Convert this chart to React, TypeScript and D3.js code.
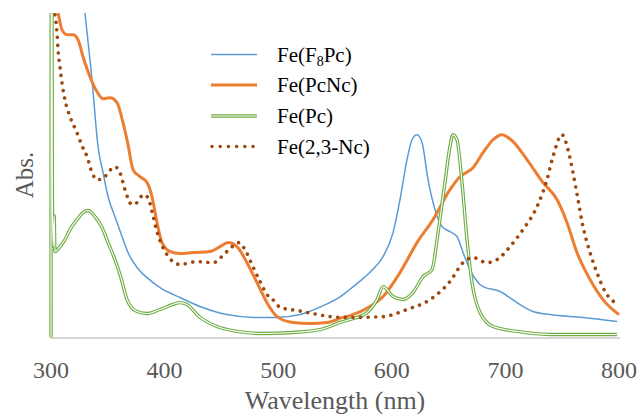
import React from "react";
import * as d3 from "d3";

const W = 639;
const H = 414;

const xTicks = [300, 400, 500, 600, 700, 800];

const seriesNames = ["Fe(F8Pc)", "Fe(PcNc)", "Fe(Pc)", "Fe(2,3-Nc)"];

// Fe(F8Pc) [wavelength nm, abs]
const feF8Pc: [number, number][] = [
  [300, 3.2], [325.5, 1.85], [329.9, 1.601], [336.1, 1.271], [341.4, 0.941], [345.8, 0.813],
  [350.2, 0.695], [356.3, 0.596], [362.5, 0.498], [367.8, 0.419], [375.7, 0.345], [384.5, 0.295],
  [396, 0.246], [413.6, 0.197], [431.2, 0.153], [454.9, 0.113], [478, 0.099], [499, 0.099],
  [519.2, 0.113], [536.8, 0.15], [554.4, 0.2], [563.2, 0.238], [572, 0.278], [580.8, 0.322],
  [592.3, 0.399], [601.1, 0.517], [607.2, 0.68], [613.4, 0.877], [617.8, 0.975], [622.2, 1.0],
  [626.6, 0.961], [631.9, 0.778], [638, 0.631], [644.2, 0.547], [651.2, 0.522], [657.4, 0.498],
  [662.7, 0.419], [668.8, 0.335], [680.3, 0.251], [695.3, 0.227], [710.2, 0.172], [724.3, 0.128],
  [739.3, 0.113], [768.3, 0.099], [798.3, 0.079],
];

// Fe(PcNc)
const fePcNc: [number, number][] = [
  [300, 1.75], [306.2, 1.601], [309.7, 1.517], [314.1, 1.493], [319.4, 1.493], [323.8, 1.468],
  [328.2, 1.384], [334.3, 1.286], [340.5, 1.212], [345.8, 1.177], [351.9, 1.182], [358.1, 1.158],
  [363.4, 1.059], [367.8, 0.951], [372.2, 0.828], [378.3, 0.793], [384.5, 0.764], [388.9, 0.695],
  [393.3, 0.567], [397.7, 0.468], [404.8, 0.424], [413.6, 0.414], [425, 0.419], [440, 0.424],
  [448.8, 0.448], [455.8, 0.468], [463.7, 0.448], [472.5, 0.369], [481.3, 0.271], [490.1, 0.172],
  [499, 0.103], [513, 0.074], [528, 0.069], [543, 0.074], [557, 0.099], [563.2, 0.108],
  [580.8, 0.153], [592.3, 0.202], [607.2, 0.32], [622.2, 0.468], [636.3, 0.581], [651.2, 0.729],
  [660, 0.793], [671.5, 0.837], [680.3, 0.911], [689.1, 0.975], [697, 1.0], [706.7, 0.966],
  [719, 0.877], [733.1, 0.764], [745.4, 0.68], [754.2, 0.567], [763, 0.419], [774.5, 0.286],
  [785.9, 0.187], [800, 0.113],
];

// Fe(Pc)
const fePc: [number, number][] = [
  [300, 0], [300.4, 3.0], [301.2, 0.69], [302, 0.45], [302.8, 0.6], [303.5, 0.424],
  [307.9, 0.448], [312.3, 0.483], [316.7, 0.532], [322.9, 0.581], [328.2, 0.616], [332.6, 0.626],
  [338.7, 0.596], [344.9, 0.542], [350.2, 0.468], [356.3, 0.384], [361.6, 0.295], [366.9, 0.187],
  [375.7, 0.128], [384.5, 0.118], [396, 0.138], [407.4, 0.163], [413.6, 0.172], [419.7, 0.163],
  [430, 0.105], [446.1, 0.054], [463.7, 0.03], [484, 0.02], [513, 0.025], [536.8, 0.039],
  [554.4, 0.074], [563.2, 0.089], [578.2, 0.123], [587, 0.187], [592.3, 0.251], [601.1, 0.202],
  [609.9, 0.187], [618.7, 0.222], [627.5, 0.3], [635.4, 0.335], [640.7, 0.517], [646.8, 0.764],
  [651.2, 0.941], [653.9, 1.0], [657.4, 0.975], [661.8, 0.764], [666.2, 0.483], [670.6, 0.271],
  [677.6, 0.123], [689.1, 0.054], [710.2, 0.03], [739.3, 0.015], [798.3, 0.015],
];

// Fe(2,3-Nc)
const fe23Nc: [number, number][] = [
  [303.5, 1.591], [305.3, 1.502], [306.2, 1.419], [307.9, 1.335], [309.7, 1.256], [312.3, 1.172],
  [316.7, 1.089], [322.9, 1.01], [327.3, 0.945], [331.7, 0.892], [336.1, 0.813], [340.5, 0.778],
  [345.8, 0.783], [350.2, 0.813], [356.3, 0.842], [360.7, 0.813], [365.1, 0.729], [371.3, 0.655],
  [376.6, 0.67], [381, 0.704], [385.4, 0.69], [388.9, 0.621], [393.3, 0.522], [402.1, 0.409],
  [407.4, 0.374], [413.6, 0.36], [428.5, 0.374], [442.6, 0.369], [454.9, 0.424], [465.5, 0.468],
  [470.8, 0.433], [476.9, 0.36], [484, 0.276], [490.1, 0.212], [497.2, 0.177], [501.6, 0.148],
  [516.6, 0.133], [530.6, 0.118], [545.6, 0.103], [560.6, 0.099], [572, 0.099], [592.3, 0.103],
  [613.4, 0.138], [633.6, 0.187], [651.2, 0.276], [662.7, 0.369], [671.5, 0.394], [683.8, 0.369],
  [692.6, 0.384], [704.1, 0.448], [715.5, 0.532], [727.8, 0.645], [736.6, 0.778], [741.9, 0.892],
  [749.8, 1.0], [755.1, 0.926], [759.5, 0.813], [763.9, 0.68], [768.3, 0.547], [774.5, 0.419],
  [780.6, 0.32], [787.7, 0.227], [796.5, 0.172],
];

const SERIF = "Liberation Serif";

export default function App() {
  const left = 51;
  const right = 619;
  const top = 13;
  const bottom = 337.5;
  const x = d3.scaleLinear().domain([300, 800]).range([left, right]);
  const y = d3.scaleLinear().domain([0, 1.6]).range([bottom, top]);
  const line = d3
    .line<[number, number]>()
    .x((d) => x(d[0]))
    .y((d) => y(d[1]))
    .curve(d3.curveMonotoneX);

  const blue = "#5B9BD5";
  const orange = "#ED7D31";
  const green = "#70AD47";
  const brown = "#9E480E";

  const legendY = [54.5, 85, 116, 146.5];
  const lx1 = 211;
  const lx2 = 257;

  return (
    <svg
      width={W}
      height={H}
      fontFamily={SERIF}
      style={{ position: "absolute", left: 0, top: 0, background: "#fff", fontFamily: "'Liberation Serif'" }}
    >
      <defs>
        <clipPath id="plot">
          <rect x={left - 4} y={top} width={right - left + 12} height={bottom - top + 3} />
        </clipPath>
      </defs>
      <line x1={left} x2={right + 1} y1={bottom + 0.5} y2={bottom + 0.5} stroke="#C8C8C8" strokeWidth={1.5} />
      <g clipPath="url(#plot)">
        <path d={line(feF8Pc) || ""} fill="none" stroke={blue} strokeWidth={1.5} />
        <path d={line(fePcNc) || ""} fill="none" stroke={orange} strokeWidth={3} />
        <path d={line(fePc) || ""} fill="none" stroke={green} strokeWidth={3.4} />
        <path d={line(fePc) || ""} fill="none" stroke="#fff" strokeWidth={1.1} />
        <path
          d={line(fe23Nc) || ""}
          fill="none"
          stroke={brown}
          strokeWidth={3.6}
          strokeLinecap="round"
          strokeDasharray="0.01 7.6"
        />
      </g>
      <g fontFamily={SERIF}>
        {xTicks.map((t) => (
          <text key={t} x={x(t)} y={378} textAnchor="middle" fontSize={24} fill="#595959">
            {t}
          </text>
        ))}
        <text x={335} y={409} textAnchor="middle" fontSize={26} fill="#595959">
          Wavelength (nm)
        </text>
        <text transform="translate(33,175) rotate(-90)" textAnchor="middle" fontSize={25} fill="#595959">
          Abs.
        </text>
      </g>
      {/* legend */}
      <line x1={lx1} x2={lx2} y1={legendY[0]} y2={legendY[0]} stroke={blue} strokeWidth={1.5} />
      <line x1={lx1} x2={lx2} y1={legendY[1]} y2={legendY[1]} stroke={orange} strokeWidth={3} />
      <line x1={lx1} x2={lx2} y1={legendY[2]} y2={legendY[2]} stroke={green} strokeWidth={3.4} />
      <line x1={lx1} x2={lx2} y1={legendY[2]} y2={legendY[2]} stroke="#fff" strokeWidth={1.1} />
      <line
        x1={lx1 + 1}
        x2={lx2}
        y1={legendY[3]}
        y2={legendY[3]}
        stroke={brown}
        strokeWidth={3.6}
        strokeLinecap="round"
        strokeDasharray="0.01 8.2"
      />
      <g fontFamily={SERIF} fontSize={21} fill="#000">
        <text x={277} y={legendY[0] + 7}>
          Fe(F<tspan fontSize={14} dy={4}>8</tspan>
          <tspan dy={-4}>Pc)</tspan>
        </text>
        {seriesNames.slice(1).map((n, i) => (
          <text key={n} x={277} y={legendY[i + 1] + 7}>
            {n}
          </text>
        ))}
      </g>
    </svg>
  );
}
